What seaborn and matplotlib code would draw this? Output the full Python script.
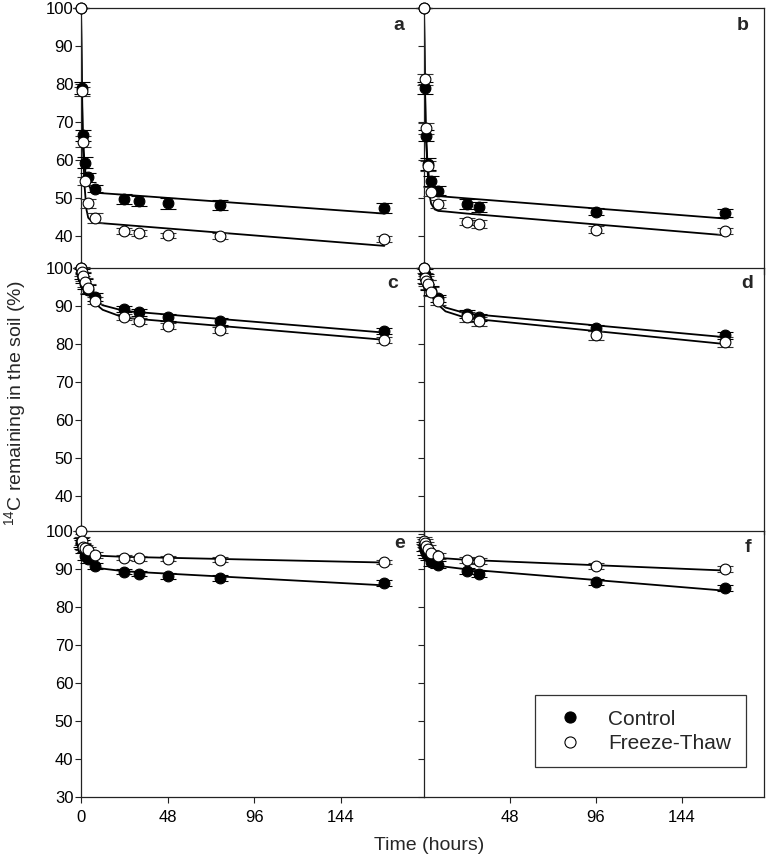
import matplotlib
matplotlib.use("Agg")
import matplotlib.pyplot as plt
from matplotlib.lines import Line2D
import seaborn as sns

# ---------------- data ----------------
t_left = [0, 0.5, 1, 2, 4, 8, 24, 32, 48, 77, 168]
t_right = [0, 0.5, 1, 2, 4, 8, 24, 31, 96, 168]
fit_t = [0, 0.5, 1, 2, 3, 4, 6, 8, 12, 24, 168]

a_ctrl = [100, 79.0, 66.5, 59.3, 55.4, 52.5, 49.7, 49.2, 48.6, 48.2, 47.3]
a_ft = [100, 78.1, 64.8, 54.5, 48.6, 44.8, 41.3, 40.9, 40.2, 39.9, 39.1]
a_ctrl_err = [0, 1.5, 1.5, 1.5, 1.2, 1.0, 1.3, 1.3, 1.4, 1.3, 1.3]
a_ft_err = [0, 1.2, 1.5, 1.0, 1.2, 1.3, 0.8, 0.8, 0.7, 0.8, 0.8]
a_ctrl_fit = [100, 80, 67.5, 58.5, 55, 53.5, 52, 51.4, 51.25, 50.85, 45.9]
a_ft_fit = [100, 77, 64, 53, 47, 44.8, 43.8, 43.5, 43.35, 42.9, 37.4]

b_ctrl = [100, 78.9, 66.4, 58.9, 54.5, 51.9, 48.4, 47.7, 46.4, 46.0]
b_ft = [100, 81.2, 68.3, 58.4, 51.7, 48.4, 43.8, 43.2, 41.7, 41.3]
b_ctrl_err = [0, 1.5, 1.5, 1.5, 1.3, 1.2, 1.3, 1.3, 1.0, 1.0]
b_ft_err = [0, 1.5, 1.5, 1.3, 1.3, 1.0, 1.0, 1.0, 1.0, 0.9]
b_ctrl_fit = [100, 80, 67, 59, 54.5, 52.5, 51, 50.5, 50.35, 49.9, 44.6]
b_ft_fit = [100, 81, 68, 57, 51, 48.5, 47, 46.6, 46.45, 45.9, 40.2]

c_ctrl = [100, 98.5, 97.3, 95.8, 94.3, 92.3, 89.2, 88.3, 87.0, 86.0, 83.5]
c_ft = [100, 99.0, 97.8, 96.3, 94.7, 91.4, 87.1, 86.1, 84.7, 83.8, 81.1]
c_ctrl_err = [0, 1.3, 1.3, 1.3, 1.2, 1.0, 0.9, 0.9, 0.9, 0.9, 0.8]
c_ft_err = [0, 1.2, 1.2, 1.2, 1.2, 1.0, 0.8, 0.8, 0.8, 0.8, 0.8]
c_ctrl_fit = [100, 98.7, 97.5, 96, 95, 94.1, 92.6, 91.5, 90.2, 88.7, 83.0]
c_ft_fit = [100, 98.7, 97.5, 95.6, 94.4, 93.3, 91.8, 90.6, 89.0, 86.9, 81.1]

d_ctrl = [100, 98.5, 97.0, 95.5, 94.0, 92.0, 87.9, 87.0, 84.1, 82.3]
d_ft = [100, 97.4, 96.5, 95.7, 93.8, 91.3, 87.1, 86.0, 82.3, 80.6]
d_ctrl_err = [0, 1.3, 1.3, 1.3, 1.2, 1.0, 1.0, 0.9, 0.8, 0.9]
d_ft_err = [0, 1.3, 1.3, 1.2, 1.2, 1.0, 1.2, 1.2, 1.2, 1.3]
d_ctrl_fit = [100, 98.5, 97, 95.5, 94.4, 93.5, 92, 91, 89.6, 88, 81.8]
d_ft_fit = [100, 98.4, 97, 95, 93.9, 93, 91.5, 90.3, 88.6, 86.8, 80.0]

e_ctrl = [97.0, 96.5, 95.3, 93.5, 92.6, 90.8, 89.3, 88.8, 88.2, 87.6, 86.3]
e_ft = [100, 97.4, 95.9, 95.4, 95.0, 93.7, 93.0, 92.8, 92.7, 92.5, 91.8]
e_ctrl_err = [1.2, 1.2, 1.2, 1.0, 1.0, 0.8, 0.7, 0.7, 0.7, 0.7, 0.7]
e_ft_err = [0, 1.0, 1.0, 0.9, 0.9, 0.7, 0.6, 0.6, 0.6, 0.6, 0.6]
e_ctrl_fit = [97.5, 96.3, 95.3, 94, 93, 92.3, 91.2, 90.5, 90.1, 89.4, 85.7]
e_ft_fit = [100, 97.4, 96.3, 95.2, 94.6, 94.2, 93.8, 93.6, 93.45, 93.2, 91.7]

f_ctrl = [96.0, 95.0, 94.2, 93.5, 91.9, 91.1, 89.4, 88.7, 86.6, 85.0]
f_ft = [97.5, 96.8, 96.0, 95.3, 94.2, 93.4, 92.4, 92.1, 90.8, 90.0]
f_ctrl_err = [1.2, 1.2, 1.2, 1.0, 1.0, 0.9, 0.8, 0.8, 0.8, 0.8]
f_ft_err = [1.0, 1.0, 1.0, 0.9, 0.9, 0.8, 0.7, 0.7, 0.7, 0.7]
f_ctrl_fit = [96.5, 95.3, 94.4, 93.2, 92.4, 91.8, 91.1, 90.8, 90.6, 89.9, 84.3]
f_ft_fit = [97.5, 96.6, 95.9, 94.9, 94.2, 93.8, 93.3, 93.0, 92.8, 92.4, 89.6]

panel_names = ["a", "b", "c", "d", "e", "f"]
x_ticks_left = [0, 48, 96, 144]
x_ticks_right = [48, 96, 144]
y_ticks = [30, 40, 50, 60, 70, 80, 90, 100]
legend_labels = ["Control", "Freeze-Thaw"]
y_label = r"$\mathregular{^{14}}$C remaining in the soil (%)"
x_label = "Time (hours)"

panels = {
    "a": (t_left, a_ctrl, a_ctrl_err, a_ft, a_ft_err, a_ctrl_fit, a_ft_fit),
    "b": (t_right, b_ctrl, b_ctrl_err, b_ft, b_ft_err, b_ctrl_fit, b_ft_fit),
    "c": (t_left, c_ctrl, c_ctrl_err, c_ft, c_ft_err, c_ctrl_fit, c_ft_fit),
    "d": (t_right, d_ctrl, d_ctrl_err, d_ft, d_ft_err, d_ctrl_fit, d_ft_fit),
    "e": (t_left, e_ctrl, e_ctrl_err, e_ft, e_ft_err, e_ctrl_fit, e_ft_fit),
    "f": (t_right, f_ctrl, f_ctrl_err, f_ft, f_ft_err, f_ctrl_fit, f_ft_fit),
}

# ---------------- style ----------------
sns.set_theme(style="ticks")
plt.rcParams["font.family"] = ["Liberation Sans", "DejaVu Sans"]
plt.rcParams["mathtext.fontset"] = "custom"
plt.rcParams["mathtext.rm"] = "Liberation Sans"
plt.rcParams["axes.edgecolor"] = "#222222"
plt.rcParams["axes.linewidth"] = 0.9

W, H = 767, 857
fig = plt.figure(figsize=(W / 100, H / 100), dpi=100)
fig.patch.set_facecolor("white")

col_x = [(81, 424), (424, 764)]
row_top = [8, 268, 531]
row_h = 266
label_off = {"a": (25, 17), "b": (21, 17), "c": (31, 15), "d": (17, 16),
             "e": (24, 12), "f": (16, 16)}


def pos(x0, x1, top, h):
    return [x0 / W, 1 - (top + h) / H, (x1 - x0) / W, h / H]


for i, name in enumerate(panel_names):
    r, c = divmod(i, 2)
    x0, x1 = col_x[c]
    ax = fig.add_axes(pos(x0, x1, row_top[r], row_h))
    ax.set_facecolor("none")
    t, yc, ec, yf, ef, fc, ff = panels[name]

    sns.lineplot(x=fit_t, y=fc, ax=ax, color="black", lw=1.3,
                 estimator=None, sort=False, zorder=2)
    sns.lineplot(x=fit_t, y=ff, ax=ax, color="black", lw=1.3,
                 estimator=None, sort=False, zorder=2)
    ax.errorbar(t, yc, yerr=ec, fmt="none", ecolor="black", elinewidth=0.8,
                capsize=5.5, capthick=0.8, zorder=3, clip_on=False)
    ax.errorbar(t, yf, yerr=ef, fmt="none", ecolor="#333333", elinewidth=0.8,
                capsize=5.5, capthick=0.8, zorder=3, clip_on=False)
    sns.scatterplot(x=t, y=yc, ax=ax, marker="o", s=60, color="black",
                    edgecolor="black", linewidth=0.8, zorder=4, clip_on=False)
    sns.scatterplot(x=t, y=yf, ax=ax, marker="o", s=60, color="white",
                    edgecolor="black", linewidth=0.8, zorder=5, clip_on=False)

    ax.set_xlim(0, 190)
    ax.set_ylim(30, 100)
    ax.set_xlabel("")
    ax.set_ylabel("")
    ax.set_yticks(y_ticks)
    ax.tick_params(axis="both", direction="out", length=4, width=0.8,
                   labelsize=12, colors="#222222", labelcolor="black")
    ax.tick_params(axis="y", pad=1.5)
    ax.tick_params(axis="x", pad=5)

    if c == 0:
        ax.spines["right"].set_visible(False)
        if r < 2:
            ax.set_yticklabels(["" if v == 30 else str(v) for v in y_ticks])
        else:
            ax.set_yticklabels([str(v) for v in y_ticks])
    else:
        ax.set_yticklabels([])
    if r < 2:
        ax.spines["bottom"].set_visible(False)
        ax.set_xticks([])
    else:
        ax.set_xticks(x_ticks_left if c == 0 else x_ticks_right)

    dx, dy = label_off[name]
    ax.text(1 - dx / (x1 - x0), 1 - dy / row_h, name, transform=ax.transAxes,
            ha="center", va="center", fontsize=14, fontweight="bold")

    if name == "f":
        handles = [
            Line2D([], [], ls="none", marker="o", markersize=8,
                   markerfacecolor="black", markeredgecolor="black",
                   markeredgewidth=0.8),
            Line2D([], [], ls="none", marker="o", markersize=8,
                   markerfacecolor="white", markeredgecolor="black",
                   markeredgewidth=0.8),
        ]
        leg = ax.legend(handles, legend_labels, loc="upper left",
                        bbox_to_anchor=(535 / W, 1 - 695 / H),
                        bbox_transform=fig.transFigure, borderaxespad=0,
                        fontsize=15, frameon=True, fancybox=False,
                        edgecolor="#333333", framealpha=1,
                        borderpad=0.7, labelspacing=0.25,
                        handlelength=2.0, handletextpad=0.8)
        leg.get_frame().set_linewidth(0.9)

fig.text(15 / W, 1 - 403 / H, y_label, rotation=90, ha="center", va="center",
         fontsize=14)
fig.text(429 / W, 1 - 845 / H, x_label, ha="center", va="center", fontsize=14)

fig.savefig("out.png", dpi=100)
